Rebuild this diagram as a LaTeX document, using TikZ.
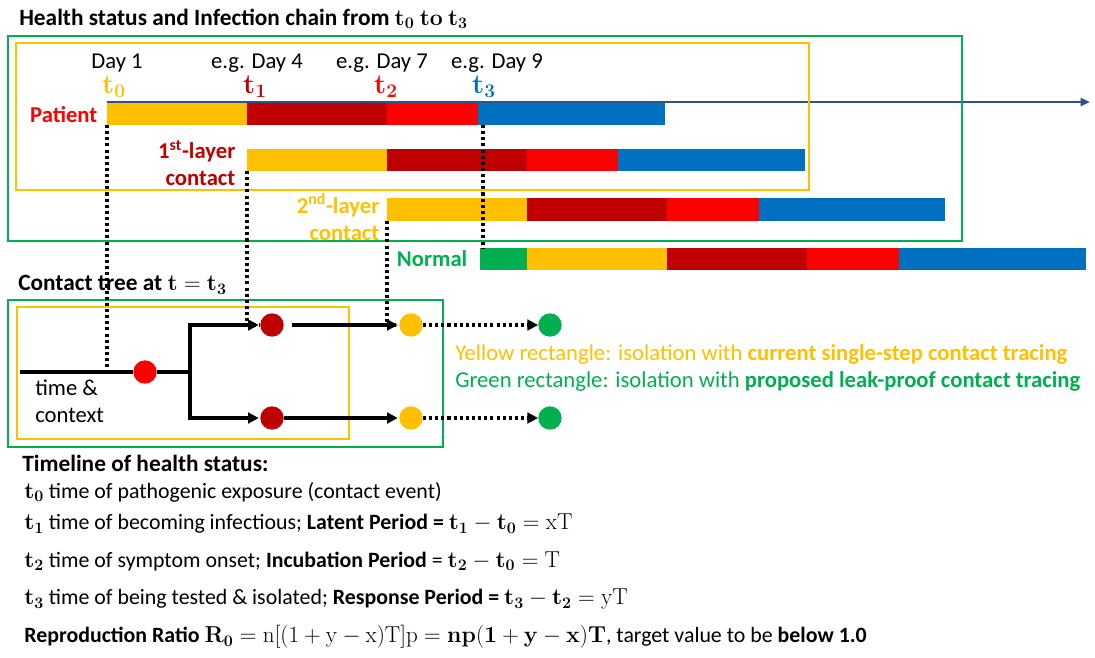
\documentclass[tikz,border=0pt]{standalone}
\usepackage[no-math]{fontspec}
\setmainfont{Carlito}
\usetikzlibrary{arrows.meta}
\definecolor{cy}{HTML}{FFC000}
\definecolor{cdr}{HTML}{C00000}
\definecolor{cr}{HTML}{FF0000}
\definecolor{cb}{HTML}{0070C0}
\definecolor{cg}{HTML}{00B050}
\definecolor{caxis}{HTML}{2F528F}
\begin{document}
\begin{tikzpicture}[x=0.75pt,y=-0.75pt,
  font=\fontsize{17}{20}\selectfont,
  tdot/.style={circle,minimum size=17.5pt,inner sep=0pt},
  treeline/.style={line width=2.8pt,black},
  dotline/.style={line width=2.3pt,black,dash pattern=on 2.3pt off 2.3pt},
  boxg/.style={draw=cg,line width=2pt},
  boxy/.style={draw=cy,line width=2pt},
  tlab/.style={font=\fontsize{20}{22}\selectfont},
  blab/.style={font=\fontsize{17}{20.5}\selectfont\bfseries,align=right,anchor=east},
  hdr/.style={anchor=west,inner sep=0pt,font=\fontsize{17.5}{20}\selectfont\bfseries},
  txt/.style={anchor=west,inner sep=0pt},
  btxt/.style={anchor=west,inner sep=0pt,font=\fontsize{16.4}{20}\selectfont}]
\useasboundingbox (0,0) rectangle (1095,657);

% title
\node[hdr] (title) at (19,19) {Health status and Infection chain from $\mathbf{t_0~to~t_3}$};

% bars: patient
\fill[cy]  (107,103) rectangle (247,125);
\fill[cdr] (247,103) rectangle (387,125);
\fill[cr]  (387,103) rectangle (478,125);
\fill[cb]  (478,103) rectangle (665,125);
% 1st layer
\fill[cy]  (247,149) rectangle (387,171);
\fill[cdr] (387,149) rectangle (527,171);
\fill[cr]  (527,149) rectangle (618,171);
\fill[cb]  (618,149) rectangle (805,171);
% 2nd layer
\fill[cy]  (387,198) rectangle (527,221);
\fill[cdr] (527,198) rectangle (667,221);
\fill[cr]  (667,198) rectangle (759,221);
\fill[cb]  (759,198) rectangle (945,221);
% normal
\fill[cg]  (480,248) rectangle (527,270);
\fill[cy]  (527,248) rectangle (667,270);
\fill[cdr] (667,248) rectangle (807,270);
\fill[cr]  (807,248) rectangle (899,270);
\fill[cb]  (899,248) rectangle (1086,270);

% axis
\coordinate (ax0) at (107,102);
\coordinate (ax1) at (1090,102);
\draw[caxis,line width=1.6pt,-{Triangle[length=7pt,width=6pt]}] (ax0) -- (ax1);

% rectangles top
\draw[boxg] (8,36) rectangle (962,241);
\draw[boxy] (16,43) rectangle (809,190);

% day labels
\node (d1l) at (117,63) {Day 1};
\node (d4l) at (257,63) {e.g. Day 4};
\node (d7l) at (382,63) {e.g. Day 7};
\node (d9l) at (497,63) {e.g. Day 9};
\node[tlab,text=cy]  (t0l) at (114,87) {$\mathbf{t_0}$};
\node[tlab,text=cdr] (t1l) at (255,87) {$\mathbf{t_1}$};
\node[tlab,text=cr]  (t2l) at (386,87) {$\mathbf{t_2}$};
\node[tlab,text=cb]  (t3l) at (484,87) {$\mathbf{t_3}$};

% row labels
\node[blab,text=cr]  (pl) at (102,115) {Patient};
\node[blab,text=cdr] (l1) at (240,163) {1\textsuperscript{st}-layer\\contact};
\node[blab,text=cy]  (l2) at (384,217) {2\textsuperscript{nd}-layer\\contact};
\node[blab,text=cg]  (nl) at (472,259) {Normal};

% tree section
\node[hdr] (ctitle) at (18,285) {Contact tree at $\mathbf{t}=\mathbf{t_3}$};
\draw[boxg] (8,300) rectangle (443,447);
\draw[boxy] (17,307) rectangle (349,439);

\node[tdot,fill=cr]  (r)  at (145,372) {};
\node[tdot,fill=cdr] (c1) at (272,325) {};
\node[tdot,fill=cdr] (c2) at (272,418) {};
\node[tdot,fill=cy]  (y1) at (411,325) {};
\node[tdot,fill=cy]  (y2) at (411,418) {};
\node[tdot,fill=cg]  (g1) at (550,325) {};
\node[tdot,fill=cg]  (g2) at (550,418) {};
\coordinate (st) at (20,372);
\coordinate (br) at (190,372);
\draw[treeline] (st) -- (r);
\draw[treeline] (r) -- (br);
\draw[treeline,-{Triangle[length=8pt,width=8pt]},shorten >=1pt] (br) |- (c1);
\draw[treeline,-{Triangle[length=8pt,width=8pt]},shorten >=1pt] (br) |- (c2);
\draw[treeline,-{Triangle[length=8pt,width=8pt]},shorten <=6pt,shorten >=1pt] (c1) -- (y1);
\draw[treeline,-{Triangle[length=8pt,width=8pt]},shorten >=1pt] (c2) -- (y2);
\draw[dotline,-{Triangle[length=8pt,width=8pt]}] (y1) -- (g1);
\draw[dotline,-{Triangle[length=8pt,width=8pt]}] (y2) -- (g2);

\node[anchor=north west,align=left,inner sep=0pt] (tc) at (35,380) {time \&\\context};

% dotted links
\coordinate (p0) at (107,125);
\coordinate (m0) at (107,372);
\coordinate (p1) at (247,171);
\coordinate (p2) at (387,221);
\coordinate (p3) at (483,125);
\coordinate (n3) at (483,248);
\draw[dotline] (p0) -- (m0);
\draw[dotline] (p1) |- (c1);
\draw[dotline] (p2) |- (y1);
\draw[dotline] (p3) -- (n3);

% legend
\node[txt,text=cy] (leg1) at (455,354) {Yellow rectangle: isolation with \textbf{current single-step contact tracing}};
\node[txt,text=cg] (leg2) at (455,381) {Green rectangle: isolation with \textbf{proposed leak-proof contact tracing}};

% timeline text
\node[hdr] (tl) at (22,463) {Timeline of health status:};
\node[btxt] (l0) at (24,492) {$\mathbf{t_0}$ time of pathogenic exposure (contact event)};
\node[btxt] (lt1) at (24,524) {$\mathbf{t_1}$ time of becoming infectious; \textbf{Latent Period =} $\mathbf{t_1}-\mathbf{t_0}=\mathrm{xT}$};
\node[btxt] (lt2) at (24,561) {$\mathbf{t_2}$ time of symptom onset; \textbf{Incubation Period} = $\mathbf{t_2}-\mathbf{t_0}=\mathrm{T}$};
\node[btxt] (lt3) at (24,599) {$\mathbf{t_3}$ time of being tested \& isolated; \textbf{Response Period =} $\mathbf{t_3}-\mathbf{t_2}=\mathrm{yT}$};
\node[btxt] (lr) at (24,637) {\textbf{Reproduction Ratio} $\mathbf{R_0}=\mathrm{n[(1+y-x)T]p}=\mathbf{np(1+y-x)T}$, target value to be \textbf{below 1.0}};
\end{tikzpicture}
\end{document}
